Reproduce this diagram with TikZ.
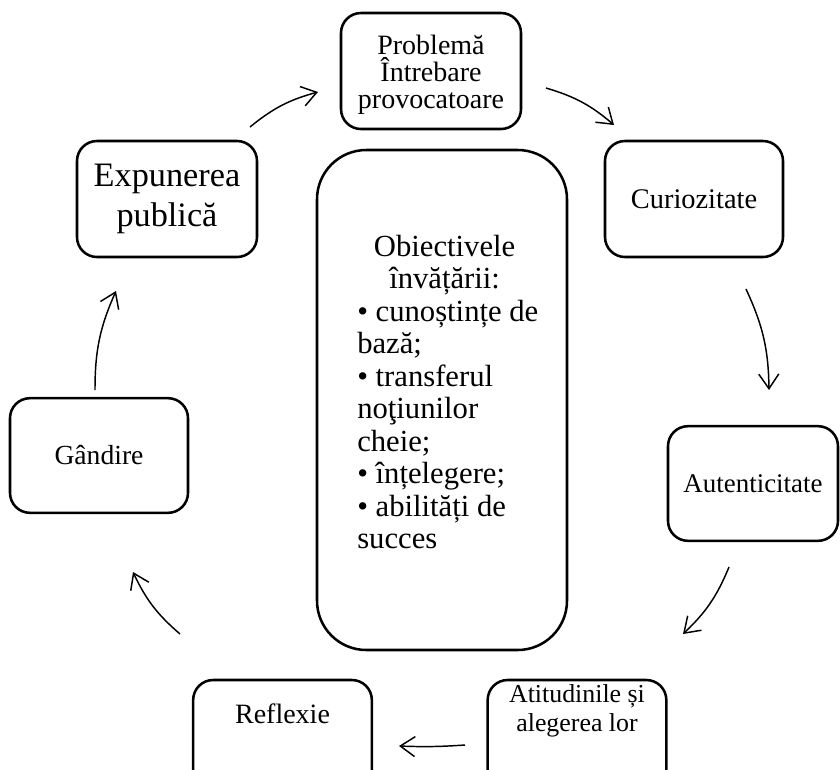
\documentclass[tikz,border=0pt]{standalone}
\usepackage{fontspec}
\setmainfont{Liberation Serif}
\usetikzlibrary{arrows.meta}
\newcommand\fsz[2]{\fontsize{#1}{#2}\selectfont}
\newcommand\midline[1]{\makebox[131pt][c]{#1}}
\begin{document}
\begin{tikzpicture}[x=0.75pt,y=-0.75pt,
  stepbox/.style={draw, line width=1.9pt, rounded corners=15pt, inner sep=0pt, align=center},
  cycle/.style={line width=1.1pt, -{Straight Barb[length=11pt,width=15pt,line width=1.1pt]}, bend left=12}
]
\useasboundingbox (0,0) rectangle (840,769);
\clip (0,0) rectangle (840,769);

% central box with the learning objectives
\node[draw, line width=1.9pt, rounded corners=37pt, minimum width=187.5pt, minimum height=375pt]
  (center) at (442,400) {};
\node[font=\fsz{23}{24.4}, align=left, inner sep=0pt, anchor=west]
  (centertext) at (357,392)
  {\midline{Obiectivele}\\ \midline{învățării:}\\
   • cunoștințe de\\ bază;\\ • transferul\\ noţiunilor\\ cheie;\\ • înțelegere;\\ • abilități de\\ succes};

% boxes of the cycle
\node[stepbox, minimum width=135pt, minimum height=87pt] (prob) at (431,71) {};
\node[align=center, inner sep=0pt, font=\fsz{21}{20.3}] (probtext) at (431,75)
  {Problemă\\ Întrebare\\ provocatoare};
\node[stepbox, font=\fsz{21.3}{22}, minimum width=133.5pt, minimum height=87pt] (cur) at (694,199) {Curiozitate};
\node[stepbox, font=\fsz{20.2}{22}, minimum width=127.5pt, minimum height=86pt] (aut) at (753,483.5) {Autenticitate};
\node[stepbox, minimum width=134pt, minimum height=87pt] (atit) at (577,738) {};
\node[align=center, inner sep=0pt, font=\fsz{19.4}{21.8}] (atittext) at (577,711)
  {Atitudinile și\\ alegerea lor};
\node[stepbox, minimum width=134pt, minimum height=87pt] (refl) at (282.5,738) {};
\node[inner sep=0pt, font=\fsz{21}{22}] (refltext) at (282.5,714) {Reflexie};
\node[stepbox, font=\fsz{20.7}{22}, minimum width=133.5pt, minimum height=86pt] (gand) at (99,455.5) {Gândire};
\node[stepbox, font=\fsz{25.7}{30.5}, minimum width=135pt, minimum height=87pt] (exp) at (167,199)
  {Expunerea\\ publică};

% arrow end points
\coordinate (a1s) at (250,127); \coordinate (a1e) at (318,92);
\coordinate (a2s) at (546,88);  \coordinate (a2e) at (614,125);
\coordinate (a3s) at (746,289); \coordinate (a3e) at (769,390);
\coordinate (a4s) at (729,567); \coordinate (a4e) at (683,634);
\coordinate (a5s) at (465,745); \coordinate (a5e) at (399,746);
\coordinate (a6s) at (180,634); \coordinate (a6e) at (133,572);
\coordinate (a7s) at (95,390);  \coordinate (a7e) at (116,291);

\draw[cycle] (a1s) to (a1e);
\draw[cycle] (a2s) to (a2e);
\draw[cycle] (a3s) to (a3e);
\draw[cycle] (a4s) to (a4e);
\draw[cycle, bend left=3] (a5s) to (a5e);
\draw[cycle] (a6s) to (a6e);
\draw[cycle] (a7s) to (a7e);
\end{tikzpicture}
\end{document}
